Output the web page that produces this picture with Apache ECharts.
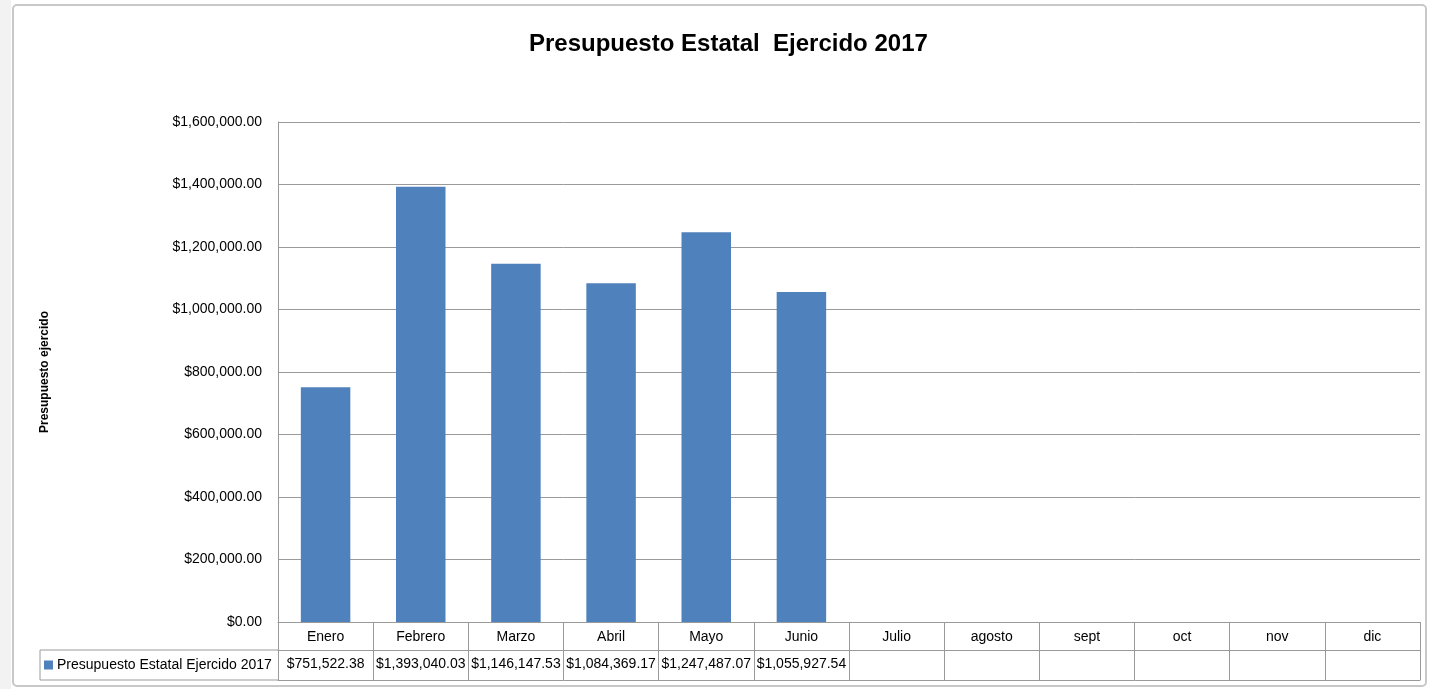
<!DOCTYPE html>
<html>
<head>
<meta charset="utf-8">
<script src="https://cdn.jsdelivr.net/npm/echarts@6/dist/echarts.min.js"></script>
<style>
  html, body { margin: 0; padding: 0; background: #fff; }
  #chart { width: 1429px; height: 689px; }
</style>
</head>
<body>
<div id="chart"></div>
<script>
// datos del presupuesto ejercido 2017
const months = ['Enero', 'Febrero', 'Marzo', 'Abril', 'Mayo', 'Junio', 'Julio', 'agosto', 'sept', 'oct', 'nov', 'dic'];
const ejercido = [751522.38, 1393040.03, 1146147.53, 1084369.17, 1247487.07, 1055927.54, null, null, null, null, null, null];
const seriesName = 'Presupuesto Estatal Ejercido 2017';
const yTicks = [0, 200000, 400000, 600000, 800000, 1000000, 1200000, 1400000, 1600000];

const money = v => '$' + Number(v).toLocaleString('en-US', {minimumFractionDigits: 2, maximumFractionDigits: 2});

const gridColor = '#9a9a9a';
const font = 'Liberation Sans';

const chart = echarts.init(document.getElementById('chart'));
chart.setOption({
    animation: false,
    textStyle: { fontFamily: font },
    title: {
        text: 'Presupuesto Estatal  Ejercido 2017',
        left: 524,
        top: 27,
        textStyle: { fontFamily: font, fontSize: 24, fontWeight: 'bold', color: '#000' }
    },
    legend: {
        left: 44,
        top: 658,
        padding: 0,
        icon: 'rect',
        itemWidth: 9,
        itemHeight: 9,
        itemGap: 4,
        textStyle: { fontSize: 14, color: '#000', padding: [0, 0, 0, -1] },
        data: [seriesName]
    },
    grid: { left: 278, right: 9, top: 122, bottom: 67 },
    xAxis: [
        {
            type: 'category',
            data: months,
            axisLine: { show: true, lineStyle: { color: gridColor } },
            axisTick: { show: true, length: 28, interval: 0, lineStyle: { color: gridColor } },
            axisLabel: { interval: 0, margin: 8, fontSize: 14, color: '#000' }
        },
        {
            type: 'category',
            data: months,
            position: 'bottom',
            offset: 28,
            axisLine: { show: true, lineStyle: { color: gridColor } },
            axisTick: { show: true, length: 30, interval: 0, lineStyle: { color: gridColor } },
            axisLabel: {
                interval: 0, margin: 7, fontSize: 14, color: '#000',
                formatter: (v, i) => ejercido[i] == null ? '' : money(ejercido[i])
            }
        },
        {
            type: 'category',
            data: months,
            position: 'bottom',
            offset: 58,
            axisLine: { show: true, lineStyle: { color: gridColor } },
            axisTick: { show: false },
            axisLabel: { show: false }
        }
    ],
    yAxis: {
        type: 'value',
        min: yTicks[0],
        max: yTicks[yTicks.length - 1],
        interval: yTicks[1] - yTicks[0],
        name: 'Presupuesto ejercido',
        nameLocation: 'middle',
        nameRotate: 90,
        nameGap: 227,
        nameTextStyle: { fontSize: 12, fontWeight: 'bold', color: '#000' },
        axisLine: { show: true, lineStyle: { color: gridColor } },
        axisTick: { show: false },
        splitLine: { lineStyle: { color: gridColor } },
        axisLabel: { fontSize: 14, color: '#000', margin: 16, formatter: v => money(v) }
    },
    series: [{
        name: seriesName,
        type: 'bar',
        data: ejercido,
        barWidth: '52%',
        itemStyle: { color: '#4F81BD' }
    }],
    graphic: [
        // marco del gráfico
        { type: 'rect', shape: { x: 13, y: 5, width: 1413, height: 681, r: 4 }, style: { fill: null, stroke: '#c8c8c8', lineWidth: 2 }, silent: true },
        { type: 'rect', shape: { x: 0, y: 0, width: 11, height: 689 }, style: { fill: '#f2f2f2' }, silent: true },
        // celda de la leyenda en la tabla
        { type: 'polyline', shape: { points: [[278, 650], [40, 650], [40, 680], [278, 680]] }, style: { stroke: gridColor, lineWidth: 1, fill: null }, silent: true }
    ]
});
</script>
</body>
</html>
